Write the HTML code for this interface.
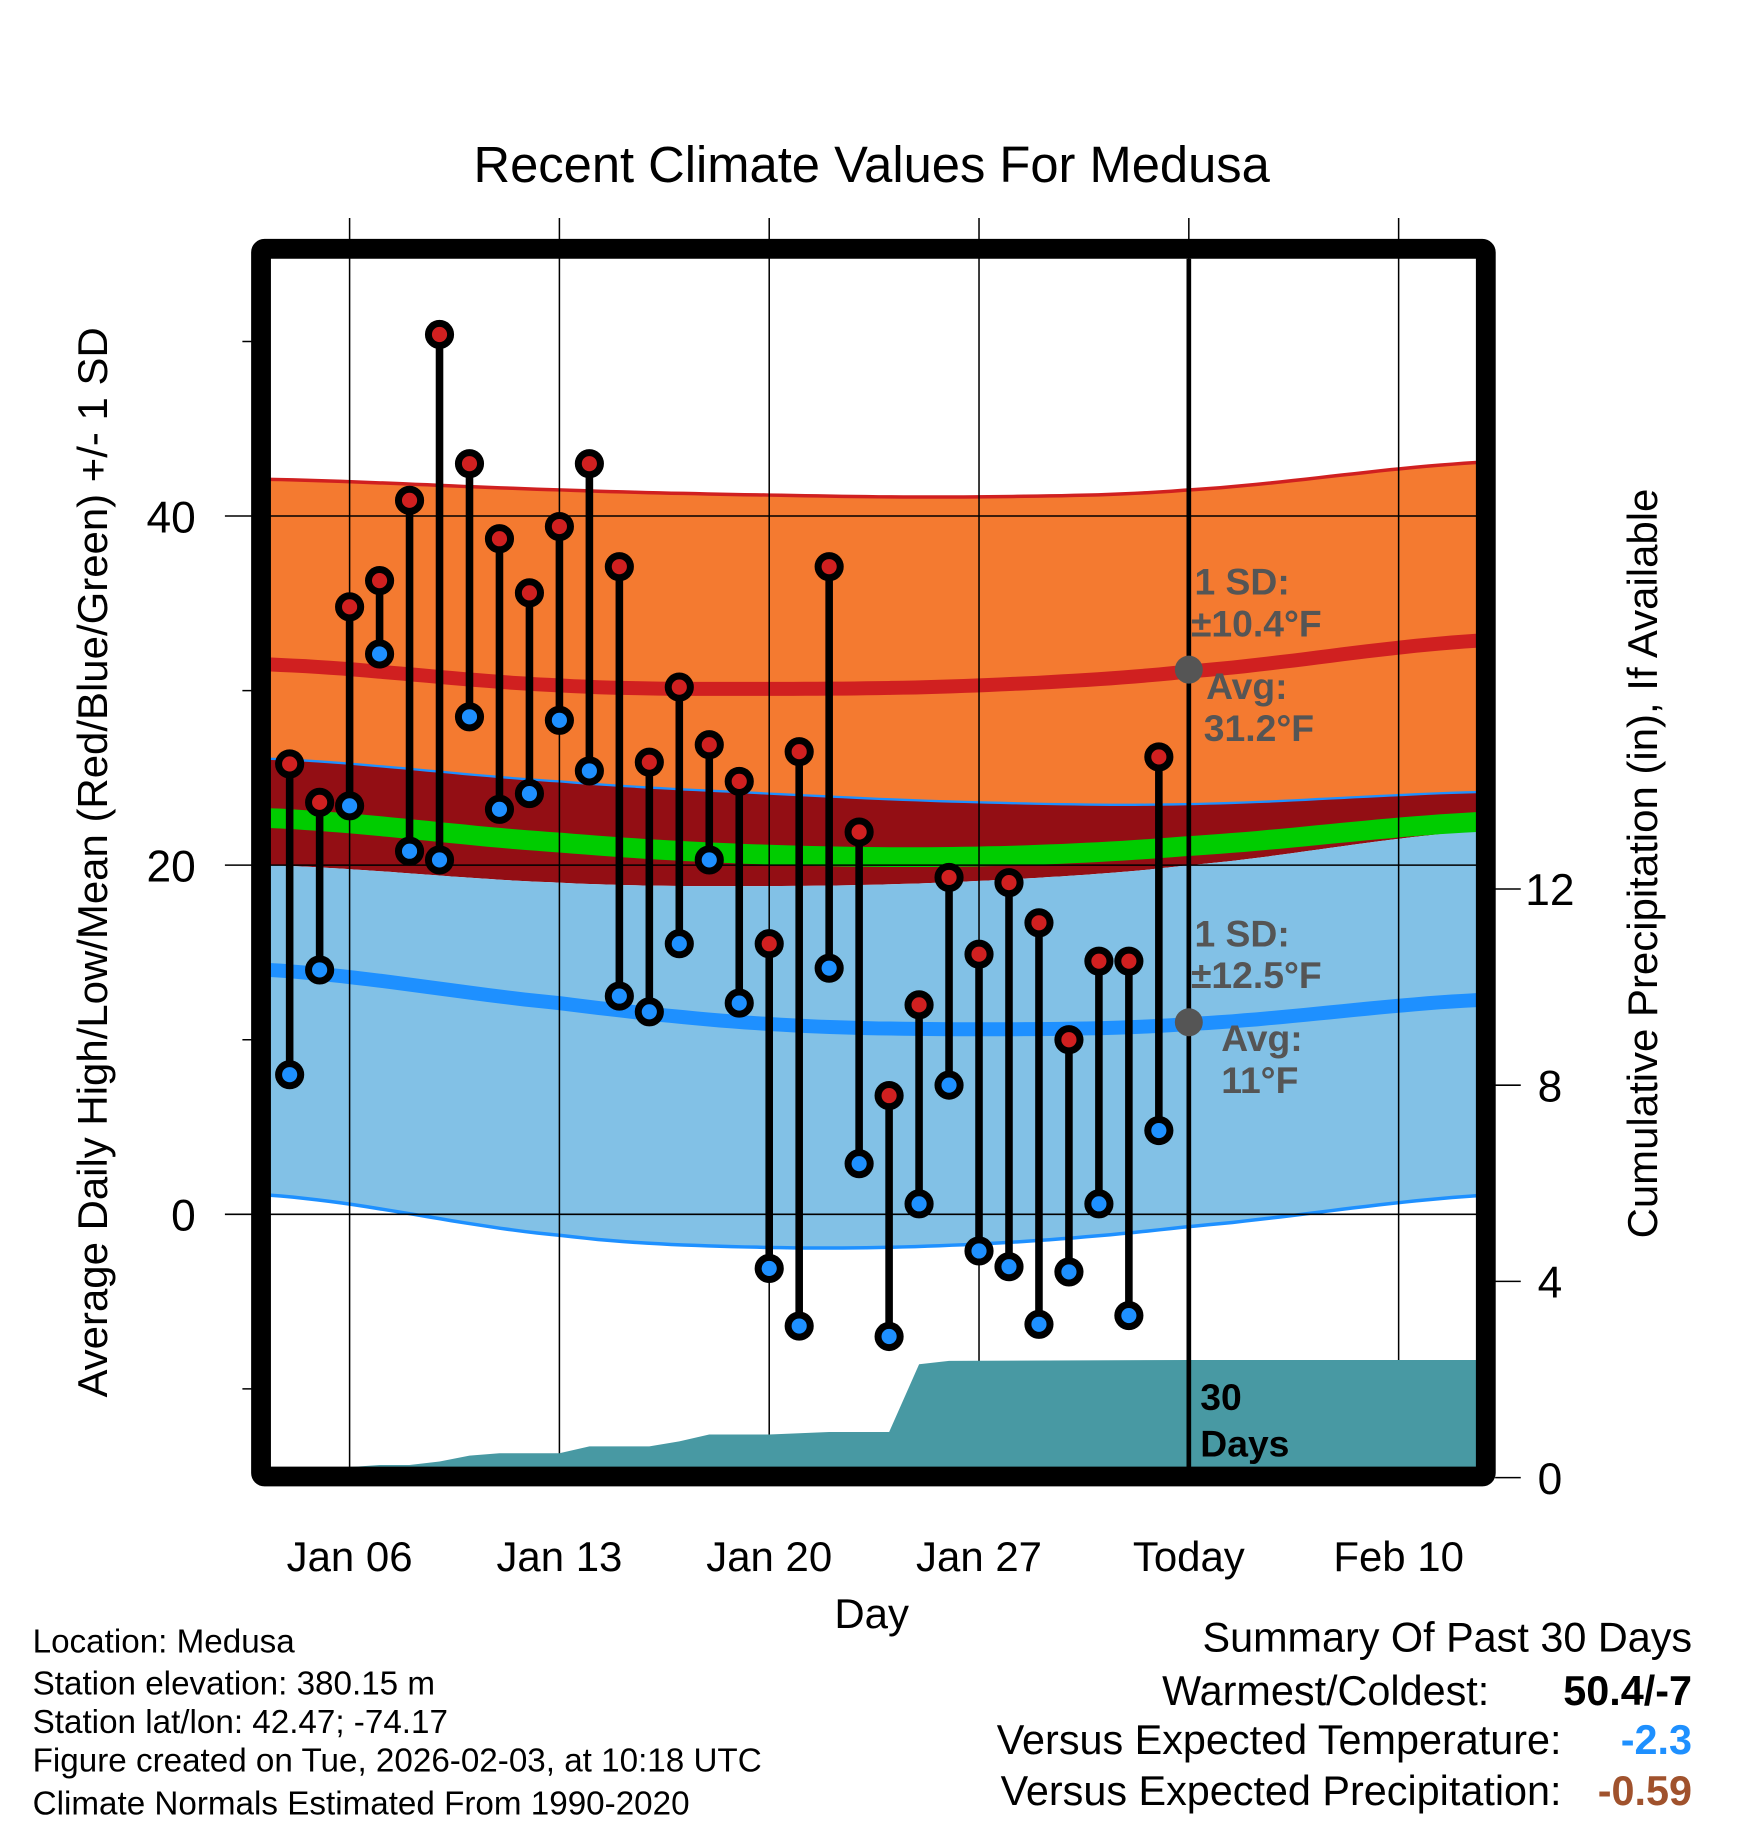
<!DOCTYPE html>
<html><head><meta charset="utf-8"><style>
html,body{margin:0;padding:0;background:#fff}
svg{display:block}
text{font-family:"Liberation Sans",Arial,sans-serif}
</style></head><body>
<svg id="chart" xmlns="http://www.w3.org/2000/svg" width="1748" height="1828" viewBox="0 0 1500 1568.6">
<rect width="1500" height="1568.6" fill="#fff"/>
<g id="bands"></g>
<g id="grid"></g>
<g id="precip"></g>
<g id="marks"></g>
<g id="axes"></g>
<text x="748" y="156" font-size="43.5" text-anchor="middle">Recent Climate Values For Medusa</text>
<text transform="translate(92,740) rotate(-90)" font-size="36" text-anchor="middle">Average Daily High/Low/Mean (Red/Blue/Green) +/- 1 SD</text>
<text transform="translate(1422,741) rotate(-90)" font-size="36" text-anchor="middle">Cumulative Precipitation (in), If Available</text>
<text x="748" y="1397" font-size="36" text-anchor="middle">Day</text>
<g fill="#555" font-weight="bold" font-size="32">
<text x="1025" y="510">1 SD:</text><text x="1022" y="546">±10.4°F</text>
<text x="1035" y="600">Avg:</text><text x="1033" y="636">31.2°F</text></g>
<g fill="#555" font-weight="bold" font-size="32">
<text x="1025" y="812">1 SD:</text><text x="1022" y="848">±12.5°F</text>
<text x="1048" y="902">Avg:</text><text x="1048" y="938">11°F</text></g>
<g font-weight="bold" font-size="32"><text x="1030" y="1210">30</text><text x="1030" y="1250">Days</text></g>
<g font-size="28.5">
<text x="28" y="1418">Location: Medusa</text>
<text x="28" y="1454">Station elevation: 380.15 m</text>
<text x="28" y="1487">Station lat/lon: 42.47; -74.17</text>
<text x="28" y="1520">Figure created on Tue, 2026-02-03, at 10:18 UTC</text>
<text x="28" y="1557">Climate Normals Estimated From 1990-2020</text></g>
<g font-size="35.5" text-anchor="end">
<text x="1452" y="1417">Summary Of Past 30 Days</text>
<text x="1278" y="1463">Warmest/Coldest:</text>
<text x="1452" y="1463" font-weight="bold">50.4/-7</text>
<text x="1340" y="1505">Versus Expected Temperature:</text>
<text x="1452" y="1505" font-weight="bold" fill="#1E90FF">-2.3</text>
<text x="1340" y="1549">Versus Expected Precipitation:</text>
<text x="1452" y="1549" font-weight="bold" fill="#A0522D">-0.59</text></g>
</svg>
<script>
const days = [4,5,6,7,8,9,10,11,12,13,14,15,16,17,18,19,20,21,22,23,24,25,26,27,28,29,30,31,32,33];
const highs = [25.8,23.6,34.8,36.3,40.9,50.4,43,38.7,35.6,39.4,43,37.1,25.9,30.2,26.9,24.8,15.5,26.5,37.1,21.9,6.8,12,19.3,14.9,19,16.7,10,14.5,14.5,26.2];
const lows = [8.0,14,23.4,32.1,20.8,20.3,28.5,23.2,24.1,28.3,25.4,12.5,11.6,15.5,20.3,12.1,-3.1,-6.4,14.1,2.9,-7,0.6,7.4,-2.1,-3,-6.3,-3.3,0.6,-5.8,4.8];
const normDays = [3.3,13,20,27,34,44];
const highTop = [42.1,41.5,41.2,41.1,41.5,43.1];
const highMean = [31.5,30.3,30.1,30.3,31.1,32.9];
const highBot = [26.1,24.8,24.1,23.6,23.5,24.2];
const meanMean = [22.7,21.3,20.6,20.5,21.1,22.5];
const lowTop = [20.0,19.0,18.8,19.1,20.0,22.0];
const lowMean = [14,12.1,10.9,10.6,10.9,12.3];
const lowBot = [1.1,-1.2,-1.9,-1.7,-0.7,1.1];
const precipDays = [3.3,6,7,8,9,10,11,13,14,16,17,18,20,22,24,25,26,34,44];
const precipVals = [0.2,0.21,0.26,0.26,0.33,0.45,0.5,0.5,0.64,0.64,0.74,0.88,0.88,0.93,0.93,2.31,2.38,2.4,2.4];
const xTickDays = [6,13,20,27,34,41];
const xTickLabels = ["Jan 06","Jan 13","Jan 20","Jan 27","Today","Feb 10"];
const yTicks = [0,20,40];
const yMinor = [-10,10,30,50];
const pTicks = [0,4,8,12];

const NS="http://www.w3.org/2000/svg";
const L=232,R=1267,T=222,B=1259;
const x=d=>300+(d-6)*25.72;
const y=t=>1042-t*14.98;
const py=p=>1268-p*42.1;
function el(parent,tag,attrs){const e=document.createElementNS(NS,tag);for(const k in attrs)e.setAttribute(k,attrs[k]);parent.appendChild(e);return e;}
function interp(xs,ys,d){const n=xs.length;for(let i=0;i<n-1;i++){if(d<=xs[i+1]+1e-9){const t=(d-xs[i])/(xs[i+1]-xs[i]);
const p0=ys[Math.max(i-1,0)],p1=ys[i],p2=ys[i+1],p3=ys[Math.min(i+2,n-1)];
const t2=t*t,t3=t2*t;return 0.5*((2*p1)+(-p0+p2)*t+(2*p0-5*p1+4*p2-p3)*t2+(-p0+3*p1-3*p2+p3)*t3);}}return ys[n-1];}
function curve(arr){const pts=[];const a=normDays[0],b=normDays[normDays.length-1];for(let k=0;k<=100;k++){const d=a+(b-a)*k/100;pts.push([x(d),y(interp(normDays,arr,d))]);}return pts;}
function ptsStr(p){return p.map(q=>q[0].toFixed(1)+","+q[1].toFixed(1)).join(" ");}
const bands=document.getElementById('bands');
function band(top,bot,fill,name){const a=curve(top),b=curve(bot).reverse();const e=el(bands,'polygon',{points:ptsStr(a.concat(b)),fill:fill});

}
band(highTop,highBot,'#F47A30','high-sd-band');
band(highBot,lowTop,'#930E14','overlap-band');
band(lowTop,lowBot,'#82C1E6','low-sd-band');
function line(arr,color,w,name){const e=el(bands,'polyline',{points:ptsStr(curve(arr)),fill:'none',stroke:color,'stroke-width':w});

}
line(highTop,'#D02020',3,'high-sd-top-line');
line(highBot,'#1E90FF',2,'high-sd-bottom-line');
line(lowBot,'#1E90FF',3,'low-sd-bottom-line');
line(meanMean,'#00CC00',17,'mean-normal-line');
line(highMean,'#D02020',12,'high-normal-line');
line(lowMean,'#1E90FF',12,'low-normal-line');
const grid=document.getElementById('grid');
xTickDays.forEach((d,i)=>{const g=el(grid,'line',{x1:x(d),x2:x(d),y1:187,y2:B,stroke:'#000','stroke-width':1.3});


const t=el(grid,'text',{x:x(d),y:1348,'font-size':36,'text-anchor':'middle'});t.textContent=xTickLabels[i];

});
yTicks.forEach(v=>{const g=el(grid,'line',{x1:193,x2:R,y1:y(v),y2:y(v),stroke:'#000','stroke-width':1.3});


const t=el(grid,'text',{x:168,y:y(v)+14,'font-size':38,'text-anchor':'end'});t.textContent=v;

});
yMinor.forEach(v=>{const g=el(grid,'line',{x1:208,x2:L,y1:y(v),y2:y(v),stroke:'#000','stroke-width':1.3});

});
pTicks.forEach(v=>{const g=el(grid,'line',{x1:1283,x2:1305,y1:py(v),y2:py(v),stroke:'#000','stroke-width':1.3});


const t=el(grid,'text',{x:1330,y:py(v)+14,'font-size':38,'text-anchor':'middle'});t.textContent=v;

});
const pg=document.getElementById('precip');
let pp=[[x(precipDays[0]),py(0)]];precipDays.forEach((d,i)=>pp.push([x(d),Math.min(py(precipVals[i]),B)]));pp.push([x(precipDays[precipDays.length-1]),py(0)]);
const pa=el(pg,'polygon',{points:ptsStr(pp),fill:'#4899A3'});


const mk=document.getElementById('marks');
days.forEach((d,i)=>{const s=el(mk,'line',{x1:x(d),x2:x(d),y1:y(highs[i]),y2:y(lows[i]),stroke:'#000','stroke-width':6.5});

});
days.forEach((d,i)=>{const h=el(mk,'circle',{cx:x(d),cy:y(highs[i]),r:9.5,fill:'#D02020',stroke:'#000','stroke-width':6});


const l=el(mk,'circle',{cx:x(d),cy:y(lows[i]),r:9.5,fill:'#1E90FF',stroke:'#000','stroke-width':6});

});
const ax=document.getElementById('axes');
const tl=el(ax,'line',{x1:x(34),x2:x(34),y1:T,y2:B,stroke:'#000','stroke-width':4});


const d1=el(ax,'circle',{cx:x(34),cy:y(31.2),r:12,fill:'#555'});


const d2=el(ax,'circle',{cx:x(34),cy:y(11),r:12,fill:'#555'});


const fr=el(ax,'rect',{x:224,y:213.5,width:1051,height:1053.5,fill:'none',stroke:'#000','stroke-width':17,rx:3});


</script>
</body></html>
